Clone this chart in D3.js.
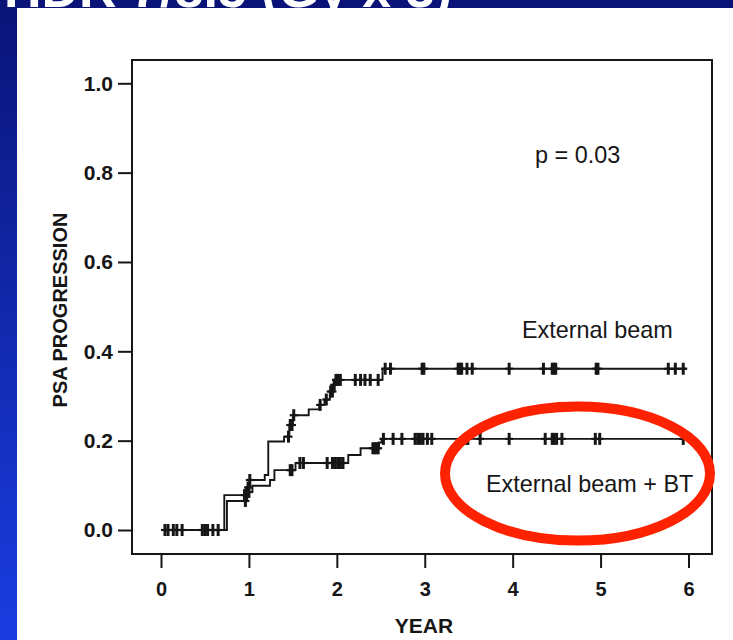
<!DOCTYPE html>
<html>
<head>
<meta charset="utf-8">
<script src="https://cdn.jsdelivr.net/npm/d3@7"></script>
<style>
  html, body { margin: 0; padding: 0; background: #ffffff; }
  svg { display: block; }
</style>
</head>
<body>
<svg id="chart" width="733" height="640"></svg>
<script>
// ---- data -------------------------------------------------------------
const yearTicks = [0, 1, 2, 3, 4, 5, 6];
const progressionTicks = [0.0, 0.2, 0.4, 0.6, 0.8, 1.0];

// Kaplan–Meier step events: [year, cumulative PSA progression]
const externalBeamSteps = [
  [0, 0], [0.72, 0.078], [0.97, 0.095], [1.01, 0.112], [1.18, 0.123],
  [1.22, 0.198], [1.40, 0.209], [1.46, 0.235], [1.50, 0.257], [1.68, 0.270],
  [1.80, 0.280], [1.86, 0.292], [1.92, 0.310], [1.96, 0.325], [1.99, 0.336],
  [2.52, 0.361]
];
const externalBeamEnd = 5.98;
const externalBeamCensored = [
  0.045, 0.14, 0.24, 0.47, 0.53, 0.65, 0.95, 0.99, 1.01, 1.45, 1.47, 1.49, 1.51,
  1.81, 1.88, 1.93, 1.95, 1.97, 1.99, 2.01, 2.04, 2.21, 2.27, 2.32, 2.38, 2.47,
  2.55, 2.61, 2.97, 2.99, 3.38, 3.40, 3.42, 3.48, 3.54, 3.96, 4.35, 4.45, 4.47,
  4.49, 4.95, 4.97, 5.77, 5.85, 5.94
];

const boostSteps = [
  [0, 0], [0.75, 0.065], [0.98, 0.085], [1.04, 0.099], [1.24, 0.112],
  [1.29, 0.134], [1.53, 0.150], [2.13, 0.168], [2.27, 0.183], [2.48, 0.196],
  [2.51, 0.204]
];
const boostEnd = 5.97;
const boostCensored = [
  0.08, 0.18, 0.50, 0.59, 0.96, 0.98, 1.00, 1.47, 1.49, 1.58, 1.62, 1.89, 1.95,
  1.98, 2.01, 2.04, 2.07, 2.41, 2.43, 2.45, 2.47, 2.53, 2.64, 2.74, 2.89, 2.92,
  2.95, 2.98, 3.03, 3.08, 3.47, 3.49, 3.63, 3.96, 4.37, 4.45, 4.47, 4.50, 4.56,
  4.94, 4.99, 5.94
];

const pValueText = "p = 0.03";
const externalBeamLabel = "External beam";
const boostLabel = "External beam + BT";
const slideTitle = "HDR 7/8.5 (Gy x 3)";

// ---- layout -----------------------------------------------------------
const svg = d3.select("#chart");
const W = 733, H = 640;
const FONT = "'Liberation Sans', Arial, Helvetica, sans-serif";
const INK = "#161616";

const frame = { left: 132, right: 712, top: 60, bottom: 554 };

const x = d3.scaleLinear().domain([0, 6]).range([161, 688.5]);
const y = d3.scaleLinear().domain([0, 1]).range([530, 83.3]);

// ---- slide background ---------------------------------------------------
const defs = svg.append("defs");
const grad = defs.append("linearGradient")
  .attr("id", "sideBlue").attr("x1", 0).attr("y1", 0).attr("x2", 0).attr("y2", 1);
grad.append("stop").attr("offset", "0%").attr("stop-color", "#0a1478");
grad.append("stop").attr("offset", "100%").attr("stop-color", "#1a3de2");

svg.append("rect").attr("width", W).attr("height", H).attr("fill", "#ffffff");
svg.append("rect").attr("x", 0).attr("y", 0).attr("width", 17).attr("height", H)
  .attr("fill", "url(#sideBlue)");
svg.append("rect").attr("x", 0).attr("y", 0).attr("width", W).attr("height", 8)
  .attr("fill", "#0a1478");
// slide heading, running off the top of the page
svg.append("text")
  .attr("x", 4).attr("y", 7)
  .attr("font-family", FONT).attr("font-weight", "bold").attr("font-size", 52)
  .attr("fill", "#ffffff")
  .text(slideTitle);

// ---- plot frame ---------------------------------------------------------
svg.append("rect")
  .attr("x", frame.left).attr("y", frame.top)
  .attr("width", frame.right - frame.left).attr("height", frame.bottom - frame.top)
  .attr("fill", "none").attr("stroke", INK).attr("stroke-width", 2);

// ---- axes ---------------------------------------------------------------
const yAxis = svg.append("g")
  .attr("transform", `translate(${frame.left},0)`)
  .call(d3.axisLeft(y).tickValues(progressionTicks)
    .tickFormat(d3.format(".1f")).tickSize(14).tickPadding(5).tickSizeOuter(0));
yAxis.select(".domain").remove();
yAxis.selectAll(".tick line").attr("stroke", INK).attr("stroke-width", 2);
yAxis.selectAll(".tick text")
  .attr("fill", INK).attr("font-family", FONT).attr("font-weight", "bold")
  .attr("font-size", 21);

const xAxis = svg.append("g")
  .attr("transform", `translate(0,${frame.bottom})`)
  .call(d3.axisBottom(x).tickValues(yearTicks)
    .tickFormat(d3.format("d")).tickSize(14).tickPadding(14).tickSizeOuter(0));
xAxis.select(".domain").remove();
xAxis.selectAll(".tick line").attr("stroke", INK).attr("stroke-width", 2);
xAxis.selectAll(".tick text")
  .attr("fill", INK).attr("font-family", FONT).attr("font-weight", "bold")
  .attr("font-size", 20);

svg.append("text")
  .attr("transform", "translate(67,310) rotate(-90)")
  .attr("text-anchor", "middle")
  .attr("font-family", FONT).attr("font-weight", "bold").attr("font-size", 20)
  .attr("fill", INK)
  .text("PSA PROGRESSION");

svg.append("text")
  .attr("x", 424).attr("y", 633)
  .attr("text-anchor", "middle")
  .attr("font-family", FONT).attr("font-weight", "bold").attr("font-size", 21)
  .attr("fill", INK)
  .text("YEAR");

// ---- survival curves ----------------------------------------------------
const stepLine = d3.line()
  .x(d => x(d[0])).y(d => y(d[1]))
  .curve(d3.curveStepAfter);

function valueAt(steps, t) {
  let v = 0;
  for (const [s, p] of steps) { if (s <= t) v = p; }
  return v;
}

function drawCurve(steps, end, censored) {
  const pts = steps.concat([[end, steps[steps.length - 1][1]]]);
  svg.append("path")
    .datum(pts)
    .attr("d", stepLine)
    .attr("fill", "none").attr("stroke", INK).attr("stroke-width", 1.9);

  // censored observations drawn as "+" marks on the curve
  const marks = svg.append("g").attr("stroke", INK).attr("stroke-width", 3);
  censored.forEach(t => {
    const cx = x(t), cy = y(valueAt(steps, t));
    marks.append("line")
      .attr("x1", cx).attr("x2", cx).attr("y1", cy - 6).attr("y2", cy + 6);
    marks.append("line")
      .attr("x1", cx - 4).attr("x2", cx + 4).attr("y1", cy).attr("y2", cy)
      .attr("stroke-width", 2.2);
  });
}

drawCurve(externalBeamSteps, externalBeamEnd, externalBeamCensored);
drawCurve(boostSteps, boostEnd, boostCensored);

// ---- annotations --------------------------------------------------------
const labelStyle = sel => sel
  .attr("font-family", FONT).attr("font-size", 23.4).attr("fill", INK);

svg.append("text").attr("x", 535).attr("y", 163).call(labelStyle).text(pValueText);
svg.append("text").attr("x", 522).attr("y", 338).call(labelStyle).text(externalBeamLabel);
svg.append("text").attr("x", 486).attr("y", 492).call(labelStyle).text(boostLabel);

// highlight ring around the boost curve label
svg.append("ellipse")
  .attr("cx", 577.5).attr("cy", 473.6).attr("rx", 132.5).attr("ry", 67)
  .attr("fill", "none").attr("stroke", "#ff2200").attr("stroke-width", 10);
</script>
</body>
</html>
